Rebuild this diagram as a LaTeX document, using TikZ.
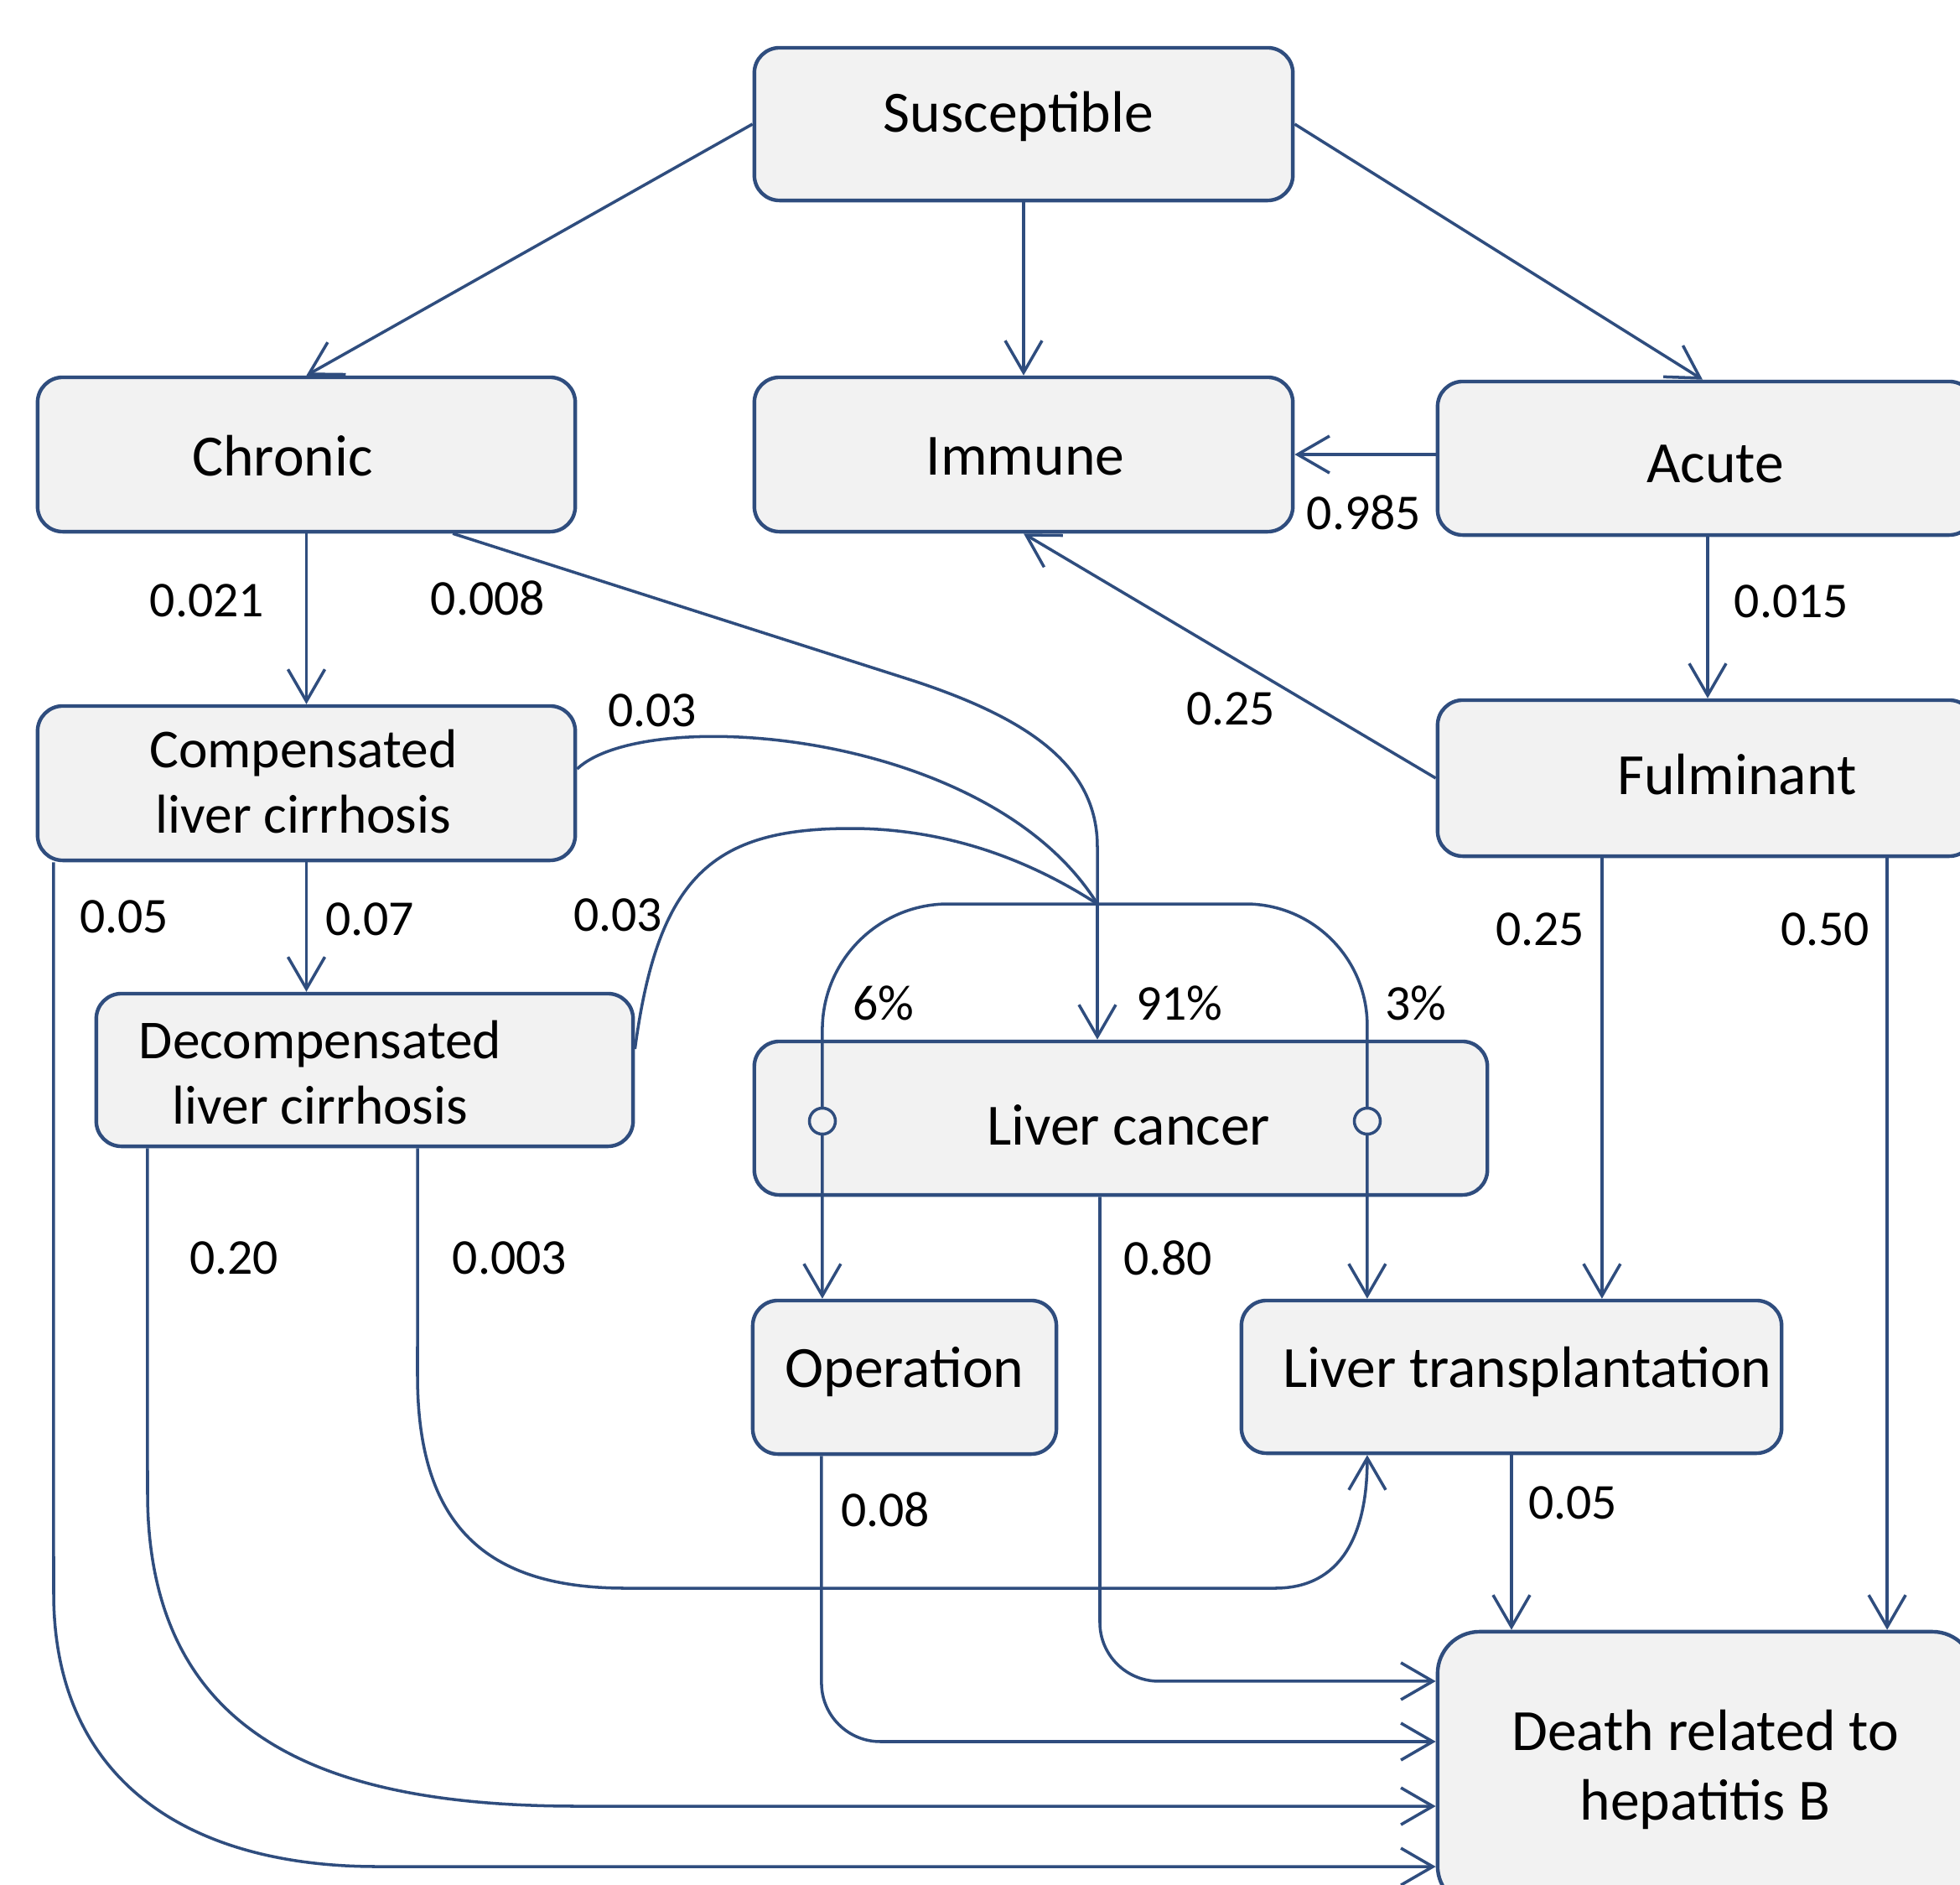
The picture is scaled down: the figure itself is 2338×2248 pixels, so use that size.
\documentclass[tikz,border=0pt]{standalone}
\usepackage{fontspec}
\setmainfont{Carlito}
\usetikzlibrary{arrows.meta,calc}
\definecolor{ln}{HTML}{2F4D7E}
\definecolor{bx}{HTML}{F2F2F2}
\begin{document}
\begin{tikzpicture}[x=0.01cm,y=-0.01cm,
  box/.style={draw=ln, fill=bx, line width=1.25pt, rounded corners=0.3cm, inner sep=0pt},
  txt/.style={font=\fontsize{19.8}{22}\selectfont, align=center, inner sep=0pt},
  stxt/.style={font=\fontsize{18.6}{22}\selectfont, align=center, inner sep=0pt},
  lab/.style={font=\fontsize{17}{20}\selectfont, inner sep=0pt},
  arr/.style={draw=ln, line width=1.0pt, -{Straight Barb[length=3.8mm,width=4.4mm]}},
  lnk/.style={draw=ln, line width=1.0pt},
  dot/.style={draw=ln, fill=bx, line width=1.0pt},
]
\useasboundingbox (0,0) rectangle (2338,2248);
\fill[white] (0,0) rectangle (2338,2248);

% boxes
\node[box, minimum width=6.42cm, minimum height=1.82cm] (sus) at (1221,148) {};
\node[box, minimum width=6.41cm, minimum height=1.84cm] (chr) at (365.5,542) {};
\node[box, minimum width=6.42cm, minimum height=1.84cm] (imm) at (1221,542) {};
\node[box, minimum width=6.40cm, minimum height=1.83cm] (acu) at (2035,546.5) {};
\node[box, minimum width=6.41cm, minimum height=1.84cm] (comp) at (365.5,934) {};
\node[box, minimum width=6.40cm, minimum height=1.86cm] (ful) at (2035,928) {};
\node[box, minimum width=6.40cm, minimum height=1.82cm] (dec) at (435,1276) {};
\node[box, minimum width=8.74cm, minimum height=1.83cm] (lc) at (1337,1333.5) {};
\node[box, minimum width=3.62cm, minimum height=1.83cm] (op) at (1079,1642.5) {};
\node[box, minimum width=6.44cm, minimum height=1.82cm] (lt) at (1803,1642) {};
\node[box, minimum width=6.40cm, minimum height=3.29cm, rounded corners=0.5cm] (dth) at (2035,2110.5) {};

% helper coordinates
\coordinate (J) at (1309,1078);
\coordinate (f1) at ([xshift=-1.24cm]ful.south);
\coordinate (f2) at ([xshift=2.16cm]ful.south);
\coordinate (a1) at ([xshift=0.02cm]acu.south);

% connectors
\draw[arr] (sus.west) -- (chr.north);
\draw[arr] (sus.south) -- (imm.north);
\draw[arr] (sus.east) -- ([xshift=-0.04cm]acu.north);
\draw[arr] (acu.west |- imm.east) -- (imm.east);
\draw[arr] (a1) -- (a1 |- ful.north);
\draw[arr] (ful.west) -- (imm.south);
\draw[arr] (chr.south) -- (chr.south |- comp.north);
\draw[lnk] ([xshift=1.745cm]chr.south) -- (1090,812) .. controls (1230,858) and (1309,915) .. (1309,1010) -- (J);
\draw[arr] (J) -- (J |- lc.north);
\draw[lnk] ([yshift=0.17cm]comp.east) .. controls (770,840) and (1180,870) .. (J);
\draw[lnk] ([yshift=0.25cm]dec.east) .. controls (785,1045) and (850,988) .. (1015,988) .. controls (1150,988) and (1250,1040) .. (J);
\draw[arr, rounded corners=1.5cm] (J) -| ([xshift=-0.98cm]op.north);
\draw[arr, rounded corners=1.45cm] (J) -| ([xshift=-1.72cm]lt.north);
\draw[arr] (comp.south) -- (comp.south |- dec.north);
\draw[arr] ([xshift=-3.015cm]comp.south) -- (64,1900) .. controls (64,2120) and (220,2226) .. (450,2226) -- ([yshift=-1.155cm]dth.west);
\draw[arr] ([xshift=-2.59cm]dec.south) -- (176,1780) .. controls (176,2080) and (400,2154) .. (690,2154) -- ([yshift=-0.435cm]dth.west);
\draw[arr] ([xshift=0.63cm]dec.south) -- (498,1640) .. controls (498,1820) and (580,1894) .. (746,1894) -- (1521,1894) .. controls (1600,1894) and (1631,1830) .. ([xshift=-1.72cm]lt.south);
\draw[arr, rounded corners=0.7cm] ([xshift=-0.25cm]lc.south) |- ([yshift=1.055cm]dth.west);
\draw[arr, rounded corners=0.7cm] ([xshift=-0.99cm]op.south) |- ([yshift=0.335cm]dth.west);
\draw[arr] (lt.south) -- (lt.south |- dth.north);
\draw[arr] (f1) -- (f1 |- lt.north);
\draw[arr] (f2) -- (f2 |- dth.north);

% small circles
\draw[dot] (981,1337) circle[radius=0.155cm];
\draw[dot] (1631,1337) circle[radius=0.155cm];

% texts
\node[txt] (tsus) at (1215,139) {Susceptible};
\node[txt] (tchr) at (337,544) {Chronic};
\node[txt] (timm) at (1223,544) {Immune};
\node[txt] (tacu) at (2046,553) {Acute};
\node[stxt] (tcomp) at (362,932) {Compensated\\liver cirrhosis};
\node[txt] (tful) at (2072,924) {Fulminant};
\node[stxt] (tdec) at (382,1279) {Decompensated\\liver cirrhosis};
\node[txt] (tlc) at (1346,1342) {Liver cancer};
\node[txt] (top) at (1079,1636) {Operation};
\node[txt] (tlt) at (1822,1636) {Liver transplantation};
\node[txt, font=\fontsize{19.8}{23.6}\selectfont] (tdth) at (2034,2110) {Death related to\\hepatitis B};

% labels
\node[lab] (l1) at (1627,611) {0.985};
\node[lab] (l2) at (2137,717) {0.015};
\node[lab] (l3) at (1468,845) {0.25};
\node[lab] (l4) at (247,716) {0.021};
\node[lab] (l5) at (582,713) {0.008};
\node[lab] (l6) at (778,847) {0.03};
\node[lab] (l7) at (737,1091) {0.03};
\node[lab] (l8) at (148,1093) {0.05};
\node[lab] (l9) at (441,1096) {0.07};
\node[lab] (l10) at (1054,1196) {6\%};
\node[lab] (l11) at (1407,1196) {91\%};
\node[lab] (l12) at (1689,1196) {3\%};
\node[lab] (l13) at (1837,1108) {0.25};
\node[lab] (l14) at (2177,1108) {0.50};
\node[lab] (l15) at (279,1500) {0.20};
\node[lab] (l16) at (608,1500) {0.003};
\node[lab] (l17) at (1393,1500) {0.80};
\node[lab] (l18) at (1056,1800) {0.08};
\node[lab] (l19) at (1876,1792) {0.05};
\end{tikzpicture}
\end{document}
